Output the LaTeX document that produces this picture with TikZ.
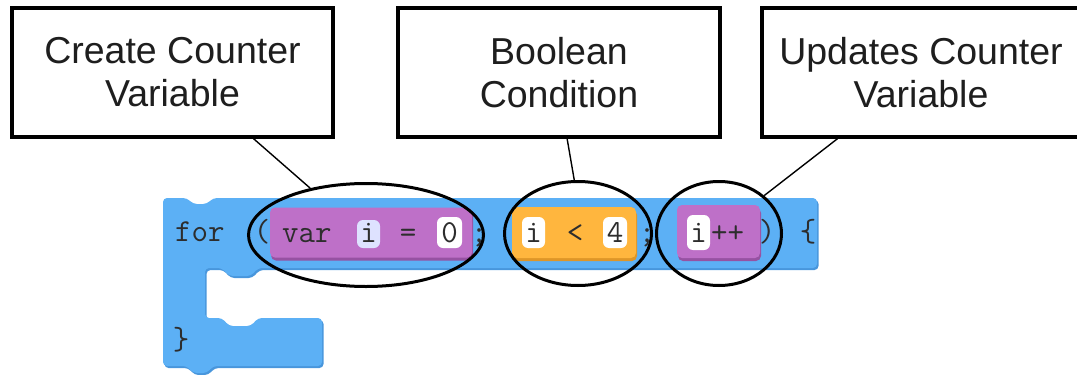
\documentclass[tikz,border=0pt]{standalone}
\usepackage{fontspec}
\setmainfont{Liberation Sans}
\usetikzlibrary{shapes.geometric,shadows,calc}

\definecolor{loopblue}{RGB}{92,176,245}
\definecolor{loopbluedark}{RGB}{72,150,220}
\definecolor{varpurple}{RGB}{190,112,200}
\definecolor{varpurpledark}{RGB}{150,82,162}
\definecolor{logicorange}{RGB}{255,182,62}
\definecolor{logicorangedark}{RGB}{222,150,40}
\definecolor{pilllavender}{RGB}{222,226,255}
\definecolor{codeink}{RGB}{45,45,45}
\definecolor{labelink}{RGB}{30,30,30}

\tikzset{
  labelbox/.style={draw=black, line width=3.5pt, fill=white, inner sep=0pt,
    minimum height=129pt, align=center, text=labelink,
    font=\fontsize{37.5}{43}\selectfont},
  leader/.style={draw=black, line width=1.4pt},
  ring/.style={ellipse, draw=black, line width=3pt, inner sep=0pt},
  block/.style={rounded corners=5pt, inner sep=0pt,
    drop shadow={shadow xshift=1pt, shadow yshift=-3pt, opacity=1, fill=#1dark}, fill=#1},
  pill/.style={rounded corners=6pt, inner sep=0pt, fill=#1},
  code/.style={font=\ttfamily\fontsize{32}{32}\selectfont, text=codeink, inner sep=0pt},
}

\begin{document}
\begin{tikzpicture}[x=1pt, y=-1pt]
\useasboundingbox (0,0) rectangle (1077,375);
\clip (0,0) rectangle (1077,375);

% ---- the "for" loop block (C-shaped) ----
\def\loopshape{(163,198) -- (187,198) -- (193,204) -- (207,204) -- (213,198)
  -- (817,198) -- (817,268) -- (258,268) -- (251,276) -- (229,276) -- (222,268)
  -- (205,268) -- (205,318) -- (222,318) -- (229,326) -- (251,326) -- (258,318)
  -- (322,318) -- (322,366) -- (213,366) -- (207,373) -- (193,373) -- (187,366)
  -- (163,366) -- cycle}
\fill[loopbluedark, rounded corners=4pt, shift={(1.5pt,-2pt)}] \loopshape;
\fill[loopblue, rounded corners=4pt] \loopshape;

% ---- code tokens on the loop block ----
\node[code, anchor=base west] (kwfor) at (175,241) {for};
\node[code, anchor=base] (lparen) at (262,241) {(};
\node[code, anchor=base] (rbrace) at (181,349) {\}};

% init: var i = 0
\node[block=varpurple, minimum width=202pt, minimum height=50pt] (init) at (371,232.5) {};
\node[code, anchor=base west] (kwvar) at (282,242) {var};
\node[pill=pilllavender, minimum width=23pt, minimum height=28pt] (initvar) at (368.5,234) {};
\node[code, anchor=base] (initi) at (initvar.center |- 0,242) {i};
\node[code, anchor=base] (eq) at (408,242) {=};
\node[pill=white, minimum width=25pt, minimum height=31pt] (initval) at (449.5,232.5) {};
\node[code, anchor=base] (zero) at (initval.center |- 0,242) {0};
\node[code, anchor=base] (semi1) at (479,242) {;};

% condition: i < 4
\node[block=logicorange, minimum width=124pt, minimum height=51pt] (cond) at (574,232.5) {};
\node[pill=white, minimum width=23pt, minimum height=31pt] (condvar) at (533.5,232.5) {};
\node[code, anchor=base] (condi) at (condvar.center |- 0,242) {i};
\node[code, anchor=base] (lt) at (575,242) {<};
\node[pill=white, minimum width=24pt, minimum height=31pt] (condval) at (615,232.5) {};
\node[code, anchor=base] (four) at (condval.center |- 0,242) {4};
\node[code, anchor=base] (semi2) at (647,242) {;};

% update: i++
\node[block=varpurple, minimum width=83pt, minimum height=53pt] (upd) at (718.5,231.5) {};
\node[pill=white, minimum width=23pt, minimum height=35pt] (updvar) at (698.5,232.5) {};
\node[code, anchor=base] (updi) at (updvar.center |- 0,242) {i};
\node[code, anchor=base west] (incr) at (711,242) {++};
\node[code, anchor=base] (rparen) at (767,241) {)};
\node[code, anchor=base] (lbrace) at (808,241) {\{};

% ---- label boxes ----
\node[labelbox, minimum width=321pt] (lab1) at (172.5,72.5) {Create Counter\\Variable};
\node[labelbox, minimum width=322pt] (lab2) at (559,72.5) {Boolean\\Condition};
\node[labelbox, minimum width=318pt] (lab3) at (921,72.5) {Updates Counter\\Variable};

% ---- rings round the three parts of the header ----
\node[ring, minimum width=235pt, minimum height=103pt] (ring1) at (366,235) {};
\node[ring, minimum width=147pt, minimum height=104pt] (ring2) at (578,233.5) {};
\node[ring, minimum width=125pt, minimum height=104pt] (ring3) at (719,233.5) {};

% ---- leaders from labels to rings ----
\draw[leader] ($(lab1.south west)!0.75!(lab1.south east)$) -- (ring1.140);
\draw[leader] ($(lab2.south west)!0.525!(lab2.south east)$) -- (ring2.94);
\draw[leader] ($(lab3.south west)!0.24!(lab3.south east)$) -- (ring3.40);
\end{tikzpicture}
\end{document}
